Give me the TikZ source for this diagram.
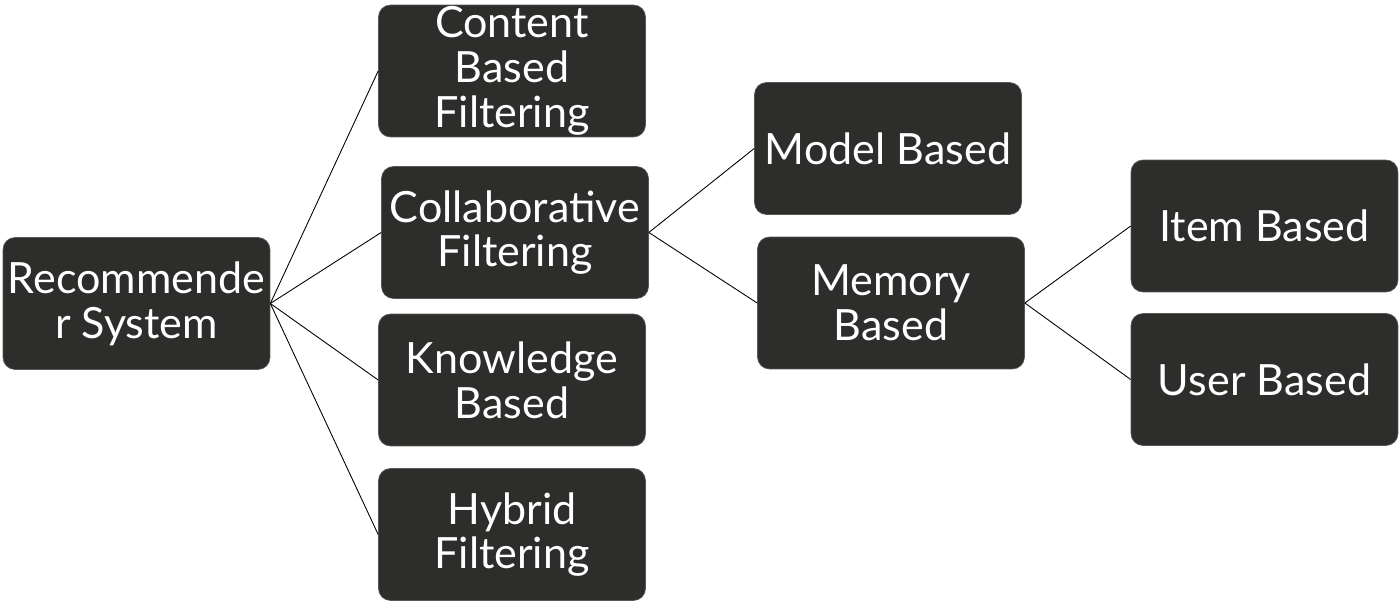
\documentclass[tikz,border=0pt]{standalone}
\usepackage{fontspec}
\setmainfont{Lato}
\definecolor{boxgray}{HTML}{2D2E2C}
\tikzstyle{box}=[draw=boxgray!80!white,fill=boxgray,rounded corners=0.24cm,text=white,align=center,minimum width=5.34cm,minimum height=2.64cm,inner sep=0pt,font=\fontsize{24.5}{25.5}\selectfont]
\tikzstyle{link}=[draw=black,line width=0.5pt]
\begin{document}
\begin{tikzpicture}[x=0.02cm,y=-0.02cm]
	\useasboundingbox (0,0) rectangle (1400,604);
	% root
	\node[box] (rec) at (136.5,303.5) {Recommende\\r System};
	% first level
	\node[box] (content) at (512,71) {Content\\Based\\Filtering};
	\node[box] (collab) at (515,232.5) {Collaborative\\Filtering};
	\node[box] (know) at (512,380) {Knowledge\\Based};
	\node[box] (hybrid) at (512,534.5) {Hybrid\\Filtering};
	% collaborative filtering
	\node[box] (model) at (888,148.5) {Model Based};
	\node[box] (memory) at (891,303) {Memory\\Based};
	% memory based
	\node[box] (item) at (1264.5,226) {Item Based};
	\node[box] (user) at (1264.5,379.5) {User Based};
	\foreach \child in {content,collab,know,hybrid}
		\draw[link] (rec.east) -- (\child.west);
	\foreach \child in {model,memory}
		\draw[link] (collab.east) -- (\child.west);
	\foreach \child in {item,user}
		\draw[link] (memory.east) -- (\child.west);
\end{tikzpicture}
\end{document}
